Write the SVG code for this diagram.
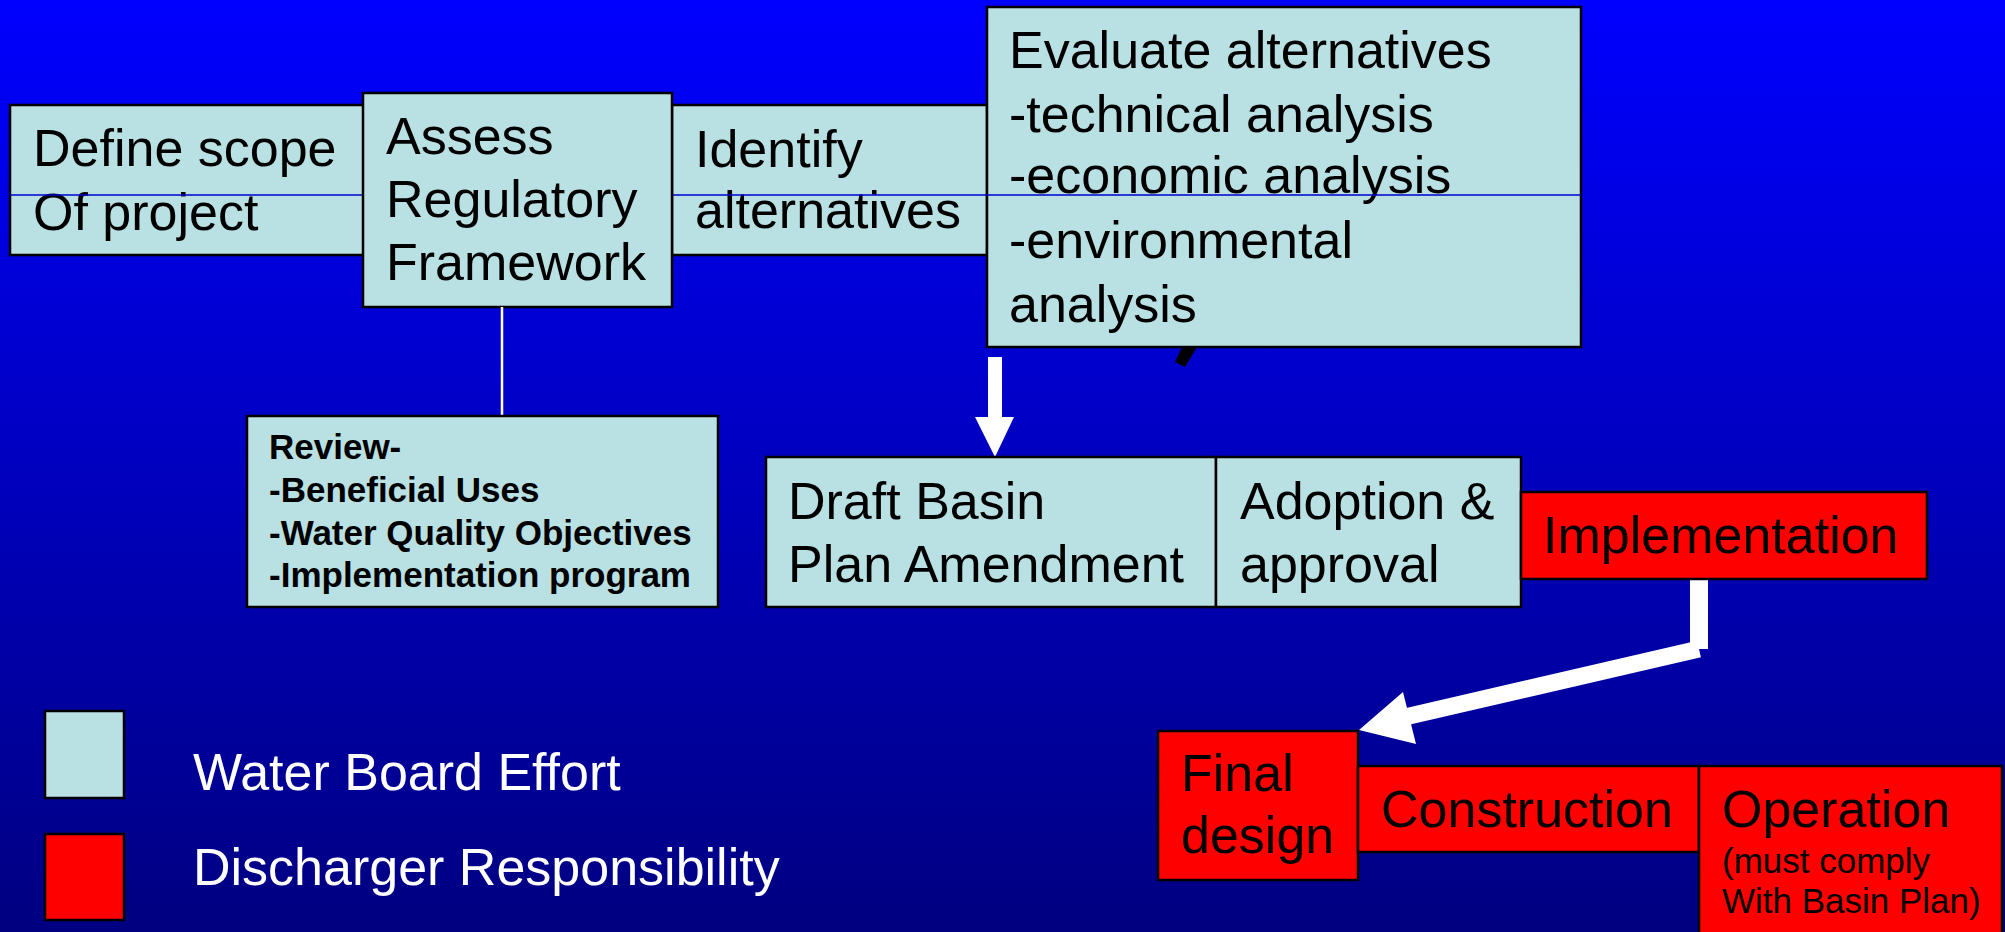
<svg xmlns="http://www.w3.org/2000/svg" width="2005" height="932" viewBox="0 0 2005 932">
<defs>
<linearGradient id="bg" x1="0" y1="0" x2="0" y2="1">
<stop offset="0" stop-color="#0000FF"/>
<stop offset="1" stop-color="#000080"/>
</linearGradient>
</defs>
<style>
.lb{fill:#B9E0E3;stroke:#000;stroke-width:2.5}
.rd{fill:#FF0000;stroke:#000;stroke-width:2.5}
text{font-family:"Liberation Sans",Arial,sans-serif;fill:#000}
.t{font-size:52px}
.s{font-size:35px}
.b{font-size:35px;font-weight:bold}
.w{fill:#fff}
</style>
<rect x="0" y="0" width="2005" height="932" fill="url(#bg)"/>

<g id="define-scope">
<rect class="lb" x="10" y="105" width="362" height="150"/>
<text class="t" x="33" y="166">Define scope</text>
<text class="t" x="33" y="230">Of project</text>
</g>
<g id="identify">
<rect class="lb" x="672" y="105" width="315" height="150"/>
<text class="t" x="695" y="167">Identify</text>
<text class="t" x="695" y="228">alternatives</text>
</g>
<g id="evaluate">
<rect class="lb" x="987" y="7" width="594" height="340"/>
<text class="t" x="1009" y="68">Evaluate alternatives</text>
<text class="t" x="1009" y="132">-technical analysis</text>
<text class="t" x="1009" y="193">-economic analysis</text>
<text class="t" x="1009" y="258">-environmental</text>
<text class="t" x="1009" y="322">analysis</text>
</g>
<line x1="10" y1="195" x2="1581" y2="195" stroke="#0000CC" stroke-width="1.5"/>
<g id="assess">
<rect class="lb" x="363" y="93" width="309" height="214"/>
<text class="t" x="386" y="154">Assess</text>
<text class="t" x="386" y="217">Regulatory</text>
<text class="t" x="386" y="280">Framework</text>
</g>

<g id="connectors">
<line x1="502" y1="307" x2="502" y2="416" stroke="#fff" stroke-width="2.5"/>
<polygon points="1182,347 1197,347 1185,367 1175,362" fill="#000"/>
<rect x="988" y="357" width="14" height="61" fill="#fff"/>
<polygon points="975,417 1014,417 995,457" fill="#fff"/>
<rect x="1690" y="579" width="18" height="70" fill="#fff"/>
<line x1="1699" y1="649" x2="1405" y2="717" stroke="#fff" stroke-width="17"/>
<polygon points="1403,692 1359,730 1416,744" fill="#fff"/>
</g>

<g id="review">
<rect class="lb" x="247" y="416" width="471" height="191"/>
<text class="b" x="269" y="459">Review-</text>
<text class="b" x="269" y="502">-Beneficial Uses</text>
<text class="b" x="269" y="545">-Water Quality Objectives</text>
<text class="b" x="269" y="587">-Implementation program</text>
</g>
<g id="draft">
<rect class="lb" x="766" y="457" width="450" height="150"/>
<text class="t" x="788" y="519">Draft Basin</text>
<text class="t" x="788" y="582">Plan Amendment</text>
</g>
<g id="adoption">
<rect class="lb" x="1216" y="457" width="305" height="150"/>
<text class="t" x="1240" y="519">Adoption &amp;</text>
<text class="t" x="1240" y="582">approval</text>
</g>
<g id="implementation">
<rect class="rd" x="1521" y="492" width="406" height="87"/>
<text class="t" x="1543" y="553">Implementation</text>
</g>
<g id="final-design">
<rect class="rd" x="1158" y="731" width="200" height="149"/>
<text class="t" x="1181" y="791">Final</text>
<text class="t" x="1181" y="853">design</text>
</g>
<g id="construction">
<rect class="rd" x="1358" y="766" width="341" height="86"/>
<text class="t" x="1381" y="827">Construction</text>
</g>
<g id="operation">
<rect class="rd" x="1699" y="766" width="303" height="180"/>
<text class="t" x="1722" y="827">Operation</text>
<text class="s" x="1722" y="873">(must comply</text>
<text class="s" x="1722" y="913">With Basin Plan)</text>
</g>

<g id="legend">
<rect class="lb" x="45" y="711" width="79" height="87"/>
<rect class="rd" x="45" y="834" width="79" height="86"/>
<text class="t w" x="193" y="790">Water Board Effort</text>
<text class="t w" x="193" y="885">Discharger Responsibility</text>
</g>
</svg>
